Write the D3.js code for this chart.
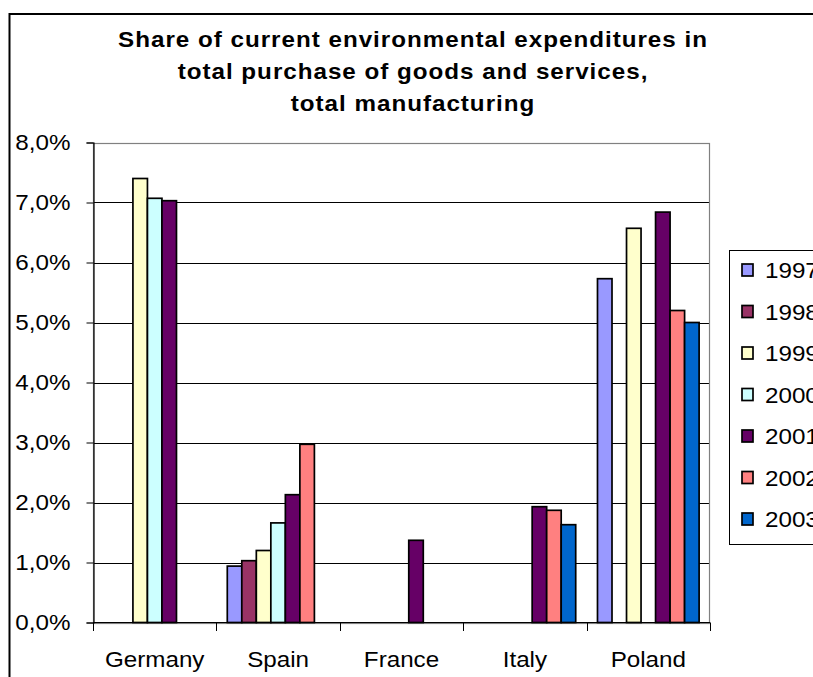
<!DOCTYPE html>
<html><head><meta charset="utf-8">
<script src="https://cdn.jsdelivr.net/npm/d3@7"></script>
<style>
html,body{margin:0;padding:0;background:#fff;}
svg{display:block;font-family:"Liberation Sans",Arial,sans-serif;}
</style></head>
<body>
<svg id="c" width="813" height="677"></svg>
<script>
const titleLines = ["Share of current environmental expenditures in","total purchase of goods and services,","total manufacturing"];
const categories = ["Germany","Spain","France","Italy","Poland"];
const years = ["1997","1998","1999","2000","2001","2002","2003"];
const colors = ["#9999FF","#993366","#FFFFCC","#CCFFFF","#660066","#FF8080","#0066CC"];
const v1997 = [null, 0.0094, null, null, 0.0573];
const v1998 = [null, 0.0103, null, null, null];
const v1999 = [0.0740, 0.0120, null, null, 0.0657];
const v2000 = [0.0707, 0.0166, null, null, null];
const v2001 = [0.0703, 0.0213, 0.0137, 0.0193, 0.0684];
const v2002 = [null, 0.0297, null, 0.0187, 0.0520];
const v2003 = [null, null, null, 0.0163, 0.0500];
const yTicks = [0,0.01,0.02,0.03,0.04,0.05,0.06,0.07,0.08];
const yTickLabels = ["0,0%","1,0%","2,0%","3,0%","4,0%","5,0%","6,0%","7,0%","8,0%"];

(function(){
const series = [v1997,v1998,v1999,v2000,v2001,v2002,v2003];
const SX = 1.1;
const FS = 22;
const svg = d3.select("#c");

// outer chart border
svg.append("rect").attr("x",9.5).attr("y",14).attr("width",900).attr("height",800)
  .attr("fill","#fff").attr("stroke","#000").attr("stroke-width",2);

const pL=93, pR=710, pT=142.5, pB=622.5;
const x0 = d3.scaleBand().domain(categories).range([pL,pR]).padding(0);
const x1 = d3.scaleBand().domain(years).range([0,x0.bandwidth()]).paddingInner(0).paddingOuter(0.75);
const y = d3.scaleLinear().domain([0,0.08]).range([pB,pT]);
const color = d3.scaleOrdinal().domain(years).range(colors);

// gridlines
svg.append("g").selectAll("line").data(yTicks.filter(t=>t>0 && t<0.08)).join("line")
  .attr("x1",pL).attr("x2",pR).attr("y1",d=>Math.round(y(d))+0.5).attr("y2",d=>Math.round(y(d))+0.5)
  .attr("stroke","#000").attr("stroke-width",1);

// plot area border (gray)
svg.append("rect").attr("x",pL+0.5).attr("y",Math.round(pT)+0.5).attr("width",pR-pL-1).attr("height",pB-pT)
  .attr("fill","none").attr("stroke","#808080").attr("stroke-width",1.2);

// bars
const bars = [];
series.forEach((s,si)=>s.forEach((v,ci)=>{ if(v!=null) bars.push({cat:categories[ci],year:years[si],v}); }));
svg.append("g").selectAll("rect").data(bars).join("rect")
  .attr("x",d=>x0(d.cat)+x1(d.year))
  .attr("width",x1.bandwidth())
  .attr("y",d=>y(d.v))
  .attr("height",d=>y(0)-y(d.v))
  .attr("fill",d=>color(d.year))
  .attr("stroke","#000").attr("stroke-width",1.7);

// y axis
const yAxis = svg.append("g").attr("transform",`translate(${pL+0.5},0)`)
  .call(d3.axisLeft(y).tickValues(yTicks).tickSize(7).tickPadding(16).tickFormat((d,i)=>yTickLabels[i]));
yAxis.select(".domain").attr("stroke","#000").attr("stroke-width",1.2);
yAxis.selectAll(".tick line").attr("stroke","#000");
yAxis.selectAll(".tick text").each(function(){
  const t=d3.select(this); const xx=+t.attr("x");
  t.attr("x",0).attr("transform",`translate(${xx},0) scale(${SX},1)`);
}).attr("font-size",FS).attr("fill","#000").attr("font-family","Liberation Sans, Arial, sans-serif");

// x axis line + boundary ticks
const xg = svg.append("g");
xg.append("line").attr("x1",pL).attr("x2",pR).attr("y1",pB).attr("y2",pB).attr("stroke","#000").attr("stroke-width",1.2);
const bounds = categories.map(c=>x0(c)).concat([x0(categories[categories.length-1])+x0.bandwidth()]);
xg.selectAll("line.tk").data(bounds).join("line").attr("class","tk")
  .attr("x1",d=>Math.round(d)+0.5).attr("x2",d=>Math.round(d)+0.5).attr("y1",pB).attr("y2",pB+8.5)
  .attr("stroke","#000").attr("stroke-width",1);
xg.selectAll("text").data(categories).join("text")
  .attr("transform",d=>`translate(${x0(d)+x0.bandwidth()/2},667) scale(${SX},1)`)
  .attr("text-anchor","middle").attr("font-size",FS).attr("fill","#000").text(d=>d);

// title
svg.append("g").selectAll("text").data(titleLines).join("text")
  .attr("transform",(d,i)=>`translate(413,${47+i*32}) scale(${SX},1)`)
  .attr("text-anchor","middle").attr("font-size",FS).attr("font-weight","bold")
  .attr("letter-spacing",0.9).attr("fill","#000").text(d=>d);

// legend
const lg = svg.append("g");
lg.append("rect").attr("x",729.5).attr("y",250.5).attr("width",200).attr("height",294)
  .attr("fill","#fff").attr("stroke","#000").attr("stroke-width",1);
const items = lg.selectAll("g").data(years).join("g")
  .attr("transform",(d,i)=>`translate(0,${270+i*41.5})`);
items.append("rect").attr("x",742).attr("y",-6).attr("width",11).attr("height",12)
  .attr("fill",d=>color(d)).attr("stroke","#000").attr("stroke-width",1.7);
items.append("text").attr("transform",`translate(765,8) scale(${SX},1)`)
  .attr("font-size",FS).attr("fill","#000").text(d=>d);
})();
</script>
</body></html>
